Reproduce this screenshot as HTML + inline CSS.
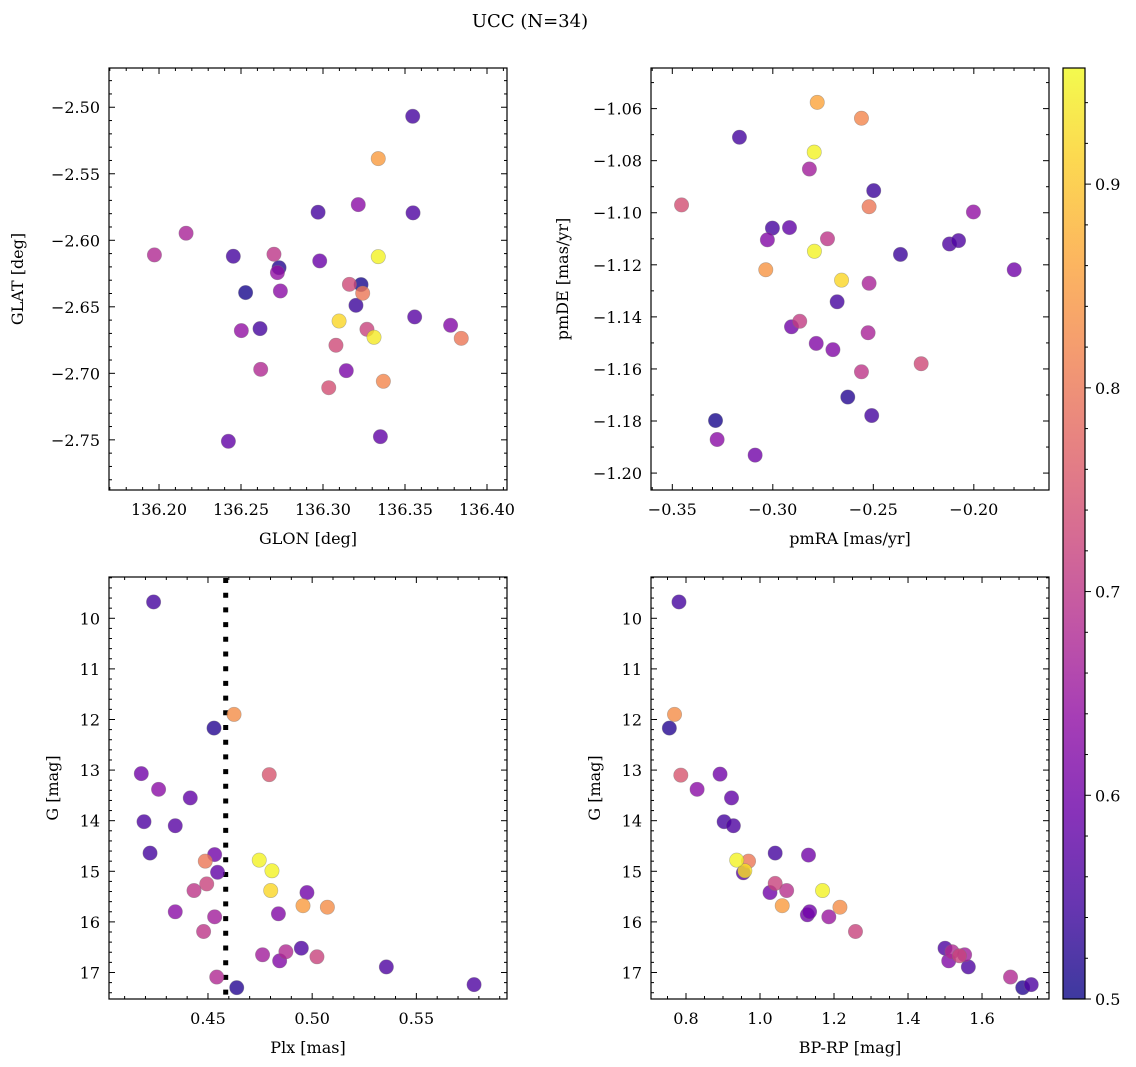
<!DOCTYPE html>
<html><head><meta charset="utf-8"><style>
html,body{margin:0;padding:0;background:#fff;}
svg{display:block;font-family:"DejaVu Serif","Liberation Serif",serif;}
</style></head><body>
<svg id="fig" width="1136" height="1067" viewBox="0 0 1136 1067" xmlns="http://www.w3.org/2000/svg">
<defs>
<linearGradient id="plasma" x1="0" y1="1" x2="0" y2="0">
<stop offset="0" stop-color="#0d0887"/><stop offset="0.1" stop-color="#41049d"/><stop offset="0.2" stop-color="#6a00a8"/><stop offset="0.3" stop-color="#8f0da4"/><stop offset="0.4" stop-color="#b12a90"/><stop offset="0.5" stop-color="#cc4778"/><stop offset="0.6" stop-color="#e16462"/><stop offset="0.7" stop-color="#f2844b"/><stop offset="0.8" stop-color="#fca636"/><stop offset="0.9" stop-color="#fcce25"/><stop offset="1" stop-color="#f0f921"/>
</linearGradient>
</defs>
<text x="530" y="27" font-size="18" text-anchor="middle">UCC (N=34)</text>
</svg>
<script>
// Panel 1: GLON vs GLAT
const glon = [136.3547,136.3337,136.3215,136.2970,136.3549,136.2165,136.1972,136.2453,136.2701,136.3337,136.2732,136.2722,136.2980,136.2740,136.2528,136.3161,136.3232,136.3242,136.3201,136.3559,136.3098,136.3778,136.3843,136.2502,136.2616,136.3268,136.3311,136.3079,136.2620,136.3142,136.3368,136.3035,136.2423,136.3350];
const glat = [-2.5068,-2.5386,-2.5732,-2.5789,-2.5794,-2.5947,-2.6110,-2.6120,-2.6105,-2.6123,-2.6206,-2.6243,-2.6155,-2.6381,-2.6393,-2.6331,-2.6333,-2.6398,-2.6489,-2.6576,-2.6607,-2.6639,-2.6737,-2.6679,-2.6664,-2.6669,-2.6729,-2.6789,-2.6970,-2.6980,-2.7060,-2.7108,-2.7511,-2.7476];
const prob1 = [0.55,0.85,0.63,0.55,0.56,0.67,0.68,0.55,0.70,0.95,0.52,0.64,0.59,0.63,0.51,0.73,0.51,0.80,0.54,0.57,0.92,0.62,0.80,0.64,0.55,0.72,0.94,0.73,0.68,0.61,0.82,0.74,0.58,0.58];
// Panel 2: pmRA vs pmDE
const pmra = [-0.2779,-0.2559,-0.3166,-0.2794,-0.2818,-0.2498,-0.3454,-0.2521,-0.2002,-0.3002,-0.2917,-0.3027,-0.2728,-0.2121,-0.2076,-0.2365,-0.2793,-0.3035,-0.1799,-0.2658,-0.2521,-0.2680,-0.2866,-0.2907,-0.2526,-0.2784,-0.2701,-0.2262,-0.2559,-0.2627,-0.2508,-0.3285,-0.3277,-0.3088];
const pmde = [-1.0576,-1.0637,-1.0710,-1.0767,-1.0832,-1.0915,-1.0970,-1.0977,-1.0997,-1.1059,-1.1057,-1.1104,-1.1100,-1.1120,-1.1107,-1.1160,-1.1148,-1.1219,-1.1219,-1.1259,-1.1271,-1.1342,-1.1417,-1.1438,-1.1461,-1.1502,-1.1526,-1.1580,-1.1611,-1.1708,-1.1779,-1.1798,-1.1871,-1.1931];
const prob2 = [0.86,0.82,0.55,0.95,0.66,0.54,0.74,0.80,0.64,0.55,0.58,0.62,0.70,0.56,0.56,0.54,0.95,0.84,0.60,0.92,0.67,0.55,0.71,0.60,0.67,0.62,0.62,0.73,0.70,0.52,0.55,0.51,0.63,0.60];
// Panel 3: Plx vs G
const plx = [0.4239,0.4625,0.4529,0.4180,0.4794,0.4263,0.4415,0.4193,0.4343,0.4222,0.4532,0.4487,0.4746,0.4807,0.4546,0.4494,0.4433,0.4801,0.4975,0.4956,0.5073,0.4343,0.4838,0.4532,0.4479,0.4762,0.4874,0.4844,0.4948,0.5023,0.5356,0.4542,0.4638,0.5777];
const gmag3 = [9.677,11.90,12.17,13.07,13.09,13.38,13.55,14.02,14.10,14.64,14.67,14.80,14.78,14.99,15.02,15.25,15.38,15.38,15.42,15.68,15.71,15.80,15.84,15.90,16.19,16.65,16.59,16.77,16.52,16.69,16.89,17.09,17.30,17.24];
const prob3 = [0.55,0.83,0.52,0.60,0.75,0.63,0.58,0.56,0.57,0.55,0.60,0.80,0.95,0.95,0.58,0.72,0.70,0.92,0.60,0.85,0.83,0.63,0.62,0.66,0.70,0.66,0.68,0.62,0.56,0.72,0.56,0.68,0.52,0.56];
const plxLine = 0.4585;
// Panel 4: BP-RP vs G
const bprp = [0.781,0.769,0.755,0.786,0.892,0.830,0.923,0.903,0.928,1.041,1.131,0.937,0.969,0.955,0.959,1.041,1.072,1.169,1.027,1.060,1.216,1.128,1.134,1.186,1.258,1.500,1.519,1.510,1.539,1.553,1.563,1.677,1.710,1.733];
const gmag4 = [9.677,11.90,12.17,13.10,13.08,13.38,13.55,14.02,14.10,14.64,14.68,14.78,14.80,15.03,14.99,15.24,15.38,15.38,15.42,15.68,15.71,15.86,15.80,15.90,16.19,16.52,16.59,16.77,16.67,16.65,16.89,17.09,17.30,17.24];
const prob4 = [0.55,0.83,0.52,0.75,0.60,0.63,0.58,0.55,0.56,0.55,0.60,0.95,0.80,0.57,0.93,0.72,0.69,0.95,0.60,0.85,0.83,0.60,0.60,0.65,0.72,0.56,0.68,0.62,0.72,0.66,0.56,0.68,0.52,0.56];
// Tick labels
const ticks1x = [136.20,136.25,136.30,136.35,136.40];
const ticks1y = [-2.50,-2.55,-2.60,-2.65,-2.70,-2.75];
const ticks2x = [-0.35,-0.30,-0.25,-0.20];
const ticks2y = [-1.06,-1.08,-1.10,-1.12,-1.14,-1.16,-1.18,-1.20];
const ticks3x = [0.45,0.50,0.55];
const ticksG = [10,11,12,13,14,15,16,17];
const ticks4x = [0.8,1.0,1.2,1.4,1.6];
const ticksCb = [0.5,0.6,0.7,0.8,0.9];
const cbMin = 0.5, cbMax = 0.957;

const NS = "http://www.w3.org/2000/svg";
const svg = document.getElementById('fig');
function mk(tag, attrs, parent){
  const e = document.createElementNS(NS, tag);
  for (const k in attrs) e.setAttribute(k, attrs[k]);
  (parent||svg).appendChild(e);
  return e;
}
const stops = ["#0d0887","#41049d","#6a00a8","#8f0da4","#b12a90","#cc4778","#e16462","#f2844b","#fca636","#fcce25","#f0f921"];
function hex(h){return [parseInt(h.substr(1,2),16),parseInt(h.substr(3,2),16),parseInt(h.substr(5,2),16)];}
function plasma(v){
  let t=(v-cbMin)/(cbMax-cbMin); t=Math.max(0,Math.min(1,t));
  const f=t*10, i=Math.min(9,Math.floor(f)), r=f-i;
  const a=hex(stops[i]), b=hex(stops[i+1]);
  return 'rgb('+a.map((c,k)=>Math.round(c+(b[k]-c)*r)).join(',')+')';
}
function fmt(v,d){ const s=Math.abs(v).toFixed(d); return (v<0?'\u2212':'')+s; }

function panel(cfg){
  const g = mk('g',{});
  
  
  const sx = v => cfg.x0 + (v-cfg.xmin)/(cfg.xmax-cfg.xmin)*cfg.w;
  const sy = v => cfg.invert ? cfg.y0 + (v-cfg.ymin)/(cfg.ymax-cfg.ymin)*cfg.h
                             : cfg.y0 + (cfg.ymax-v)/(cfg.ymax-cfg.ymin)*cfg.h;
  const tg = mk('g',{stroke:'#000','stroke-width':1},g);
  
  
  const eps=1e-9;
  for(let v=Math.ceil(cfg.xmin/cfg.xminor-eps)*cfg.xminor; v<=cfg.xmax; v+=cfg.xminor){
    const X=sx(v); const major = cfg.xt.some(t=>Math.abs(t-v)<cfg.xminor/10); const L= major?6:3;
    mk('line',{x1:X,x2:X,y1:cfg.y0+cfg.h,y2:cfg.y0+cfg.h-L},tg); mk('line',{x1:X,x2:X,y1:cfg.y0,y2:cfg.y0+L},tg);
  }
  const ylo=Math.min(cfg.ymin,cfg.ymax), yhi=Math.max(cfg.ymin,cfg.ymax);
  for(let v=Math.ceil(ylo/cfg.yminor-eps)*cfg.yminor; v<=yhi; v+=cfg.yminor){
    const Y=sy(v); const major = cfg.yt.some(t=>Math.abs(t-v)<cfg.yminor/10); const L= major?6:3;
    mk('line',{x1:cfg.x0,x2:cfg.x0+L,y1:Y,y2:Y},tg); mk('line',{x1:cfg.x0+cfg.w,x2:cfg.x0+cfg.w-L,y1:Y,y2:Y},tg);
  }
  cfg.xt.forEach(t=>{
    const e=mk('text',{x:sx(t),y:cfg.y0+cfg.h+25,'font-size':16,'text-anchor':'middle'},g);
    e.textContent=fmt(t,cfg.xd);
    
    
  });
  cfg.yt.forEach(t=>{
    const e=mk('text',{x:cfg.x0-9,y:sy(t)+6,'font-size':16,'text-anchor':'end'},g);
    e.textContent=fmt(t,cfg.yd);
    
    
  });
  const xl=mk('text',{x:cfg.x0+cfg.w/2,y:cfg.y0+cfg.h+54,'font-size':16,'text-anchor':'middle'},g);
  xl.textContent=cfg.xlabel;
  
  
  const yl=mk('text',{x:cfg.ylx,y:cfg.y0+cfg.h/2,'font-size':16,'text-anchor':'middle',transform:'rotate(-90 '+cfg.ylx+' '+(cfg.y0+cfg.h/2)+')'},g);
  yl.textContent=cfg.ylabel;
  
  
  if(cfg.vline!==undefined){
    const l=mk('line',{x1:sx(cfg.vline),x2:sx(cfg.vline),y1:cfg.y0+1,y2:cfg.y0+cfg.h,stroke:'#000','stroke-width':5,'stroke-dasharray':'5 9.7'},g);
    
    
  }
  const idx = cfg.xs.map((_,i)=>i).sort((a,b)=>cfg.c[a]-cfg.c[b]);
  idx.forEach(i=>{
    const c=mk('circle',{cx:sx(cfg.xs[i]),cy:sy(cfg.ys[i]),r:7.2,fill:plasma(cfg.c[i]),'fill-opacity':0.8,stroke:'#777','stroke-opacity':0.5,'stroke-width':0.6},g);
    
    
  });
  const fr=mk('rect',{x:cfg.x0,y:cfg.y0,width:cfg.w,height:cfg.h,fill:'none',stroke:'#000','stroke-width':1.2},g);
  
  
}

panel({name:'glon-glat-panel',x0:109,y0:68,w:398,h:422,xmin:136.1695,xmax:136.4122,ymin:-2.7877,ymax:-2.4705,
  xt:ticks1x,yt:ticks1y,xminor:0.01,yminor:0.01,xd:2,yd:2,xlabel:'GLON [deg]',ylabel:'GLAT [deg]',ylx:23,xs:glon,ys:glat,c:prob1});
panel({name:'pm-panel',x0:651,y0:68,w:398,h:422,xmin:-0.3606,xmax:-0.1626,ymin:-1.2065,ymax:-1.0444,
  xt:ticks2x,yt:ticks2y,xminor:0.01,yminor:0.01,xd:2,yd:2,xlabel:'pmRA [mas/yr]',ylabel:'pmDE [mas/yr]',ylx:568,xs:pmra,ys:pmde,c:prob2});
panel({name:'plx-g-panel',x0:109,y0:577,w:398,h:422,xmin:0.4025,xmax:0.5935,ymin:9.184,ymax:17.524,invert:true,
  xt:ticks3x,yt:ticksG,xminor:0.01,yminor:0.2,xd:2,yd:0,xlabel:'Plx [mas]',ylabel:'G [mag]',ylx:58,xs:plx,ys:gmag3,c:prob3,vline:plxLine});
panel({name:'cmd-panel',x0:651,y0:577,w:398,h:422,xmin:0.7054,xmax:1.781,ymin:9.184,ymax:17.524,invert:true,
  xt:ticks4x,yt:ticksG,xminor:0.05,yminor:0.2,xd:1,yd:0,xlabel:'BP-RP [mag]',ylabel:'G [mag]',ylx:600,xs:bprp,ys:gmag4,c:prob4});

const cb = mk('g',{});


const cbx=1063, cby=68, cbw=22, cbh=931;
const cy = v => cby + (cbMax-v)/(cbMax-cbMin)*cbh;
mk('rect',{x:cbx,y:cby,width:cbw,height:cbh,fill:'url(#plasma)','fill-opacity':0.8},cb);
for(let v=0.5; v<=cbMax+1e-9; v+=0.02){
  const Y=cy(v); const major=ticksCb.some(t=>Math.abs(t-v)<0.001);
  mk('line',{x1:cbx+cbw,x2:cbx+cbw+(major?6:3),y1:Y,y2:Y,stroke:'#000','stroke-width':1},cb);
}
ticksCb.forEach(t=>{
  const e=mk('text',{x:cbx+cbw+10,y:cy(t)+6,'font-size':16},cb);
  e.textContent=t.toFixed(1);
  
  
});
mk('rect',{x:cbx,y:cby,width:cbw,height:cbh,fill:'none',stroke:'#000','stroke-width':1.2},cb);
</script>
</body></html>
